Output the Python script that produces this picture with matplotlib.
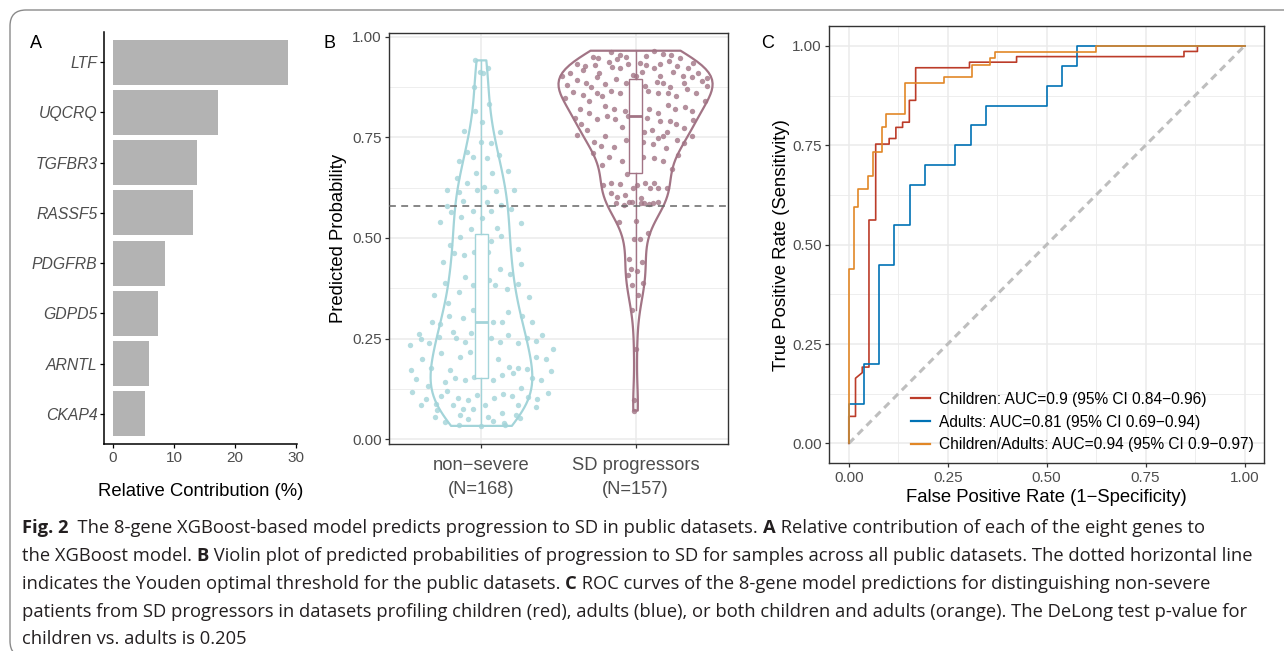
import numpy as np
import matplotlib
matplotlib.use("Agg")
import matplotlib.pyplot as plt
from matplotlib.patches import FancyBboxPatch
from matplotlib.transforms import IdentityTransform

plt.rcParams['font.family'] = ['Liberation Sans', 'DejaVu Sans']

# ---------------- data ----------------
genes = ["LTF", "UQCRQ", "TGFBR3", "RASSF5", "PDGFRB", "GDPD5", "ARNTL", "CKAP4"]
contrib = [28.7, 17.2, 13.7, 13.05, 8.5, 7.4, 5.85, 5.35]

groups = ["non\u2212severe\n(N=168)", "SD progressors\n(N=157)"]
threshold = 0.58

prob_ns = [0.941, 0.913, 0.909, 0.923, 0.876, 0.816, 0.789, 0.833, 0.766, 0.764,
           0.737, 0.735, 0.714, 0.700, 0.698, 0.706, 0.691, 0.662, 0.661, 0.667,
           0.637, 0.627, 0.648, 0.618, 0.617, 0.619, 0.615, 0.619, 0.580, 0.564,
           0.591, 0.568, 0.590, 0.581, 0.573, 0.550, 0.551, 0.567, 0.539, 0.536,
           0.522, 0.524, 0.502, 0.483, 0.493, 0.505, 0.472, 0.458, 0.464, 0.464,
           0.439, 0.462, 0.422, 0.435, 0.387, 0.404, 0.382, 0.382, 0.396, 0.382,
           0.373, 0.411, 0.385, 0.357, 0.366, 0.339, 0.353, 0.291, 0.286, 0.305,
           0.300, 0.322, 0.292, 0.290, 0.315, 0.305, 0.291, 0.262, 0.249, 0.240,
           0.254, 0.267, 0.251, 0.242, 0.263, 0.251, 0.241, 0.258, 0.239, 0.251,
           0.259, 0.245, 0.235, 0.198, 0.214, 0.173, 0.203, 0.217, 0.172, 0.198,
           0.179, 0.176, 0.175, 0.204, 0.199, 0.223, 0.171, 0.176, 0.150, 0.131,
           0.142, 0.153, 0.147, 0.154, 0.166, 0.147, 0.159, 0.165, 0.127, 0.151,
           0.148, 0.170, 0.116, 0.099, 0.088, 0.108, 0.120, 0.102, 0.098, 0.110,
           0.102, 0.113, 0.108, 0.105, 0.099, 0.115, 0.084, 0.073, 0.084, 0.075,
           0.075, 0.084, 0.064, 0.084, 0.079, 0.055, 0.043, 0.060, 0.051, 0.055,
           0.045, 0.040, 0.059, 0.052, 0.035, 0.033, 0.036,
           # samples hidden behind the box
           0.300, 0.320, 0.335, 0.350, 0.370, 0.395, 0.420, 0.445, 0.470, 0.490, 0.505]
jit_ns = [-0.039, -0.011, 0.013, 0.043, -0.050, -0.043, 0.004, 0.048, -0.115, 0.121,
          -0.006, 0.065, -0.097, -0.054, 0.035, 0.115, -0.147, -0.037, 0.067, 0.171,
          -0.097, 0.017, -0.160, -0.026, 0.093, -0.223, -0.147, 0.210, -0.221, -0.195,
          -0.121, -0.058, 0.035, 0.126, 0.193, 0.004, -0.134, 0.065, -0.266, 0.258,
          -0.067, 0.100, -0.141, -0.201, 0.065, 0.130, 0.236, -0.113, -0.050, 0.041,
          -0.249, -0.175, 0.121, 0.258, -0.234, -0.106, -0.058, -0.002, 0.050, 0.091,
          0.167, 0.186, 0.240, -0.307, -0.143, -0.216, 0.307, -0.320, -0.271, -0.208,
          -0.117, -0.052, 0.074, 0.132, 0.171, 0.266, 0.331, -0.405, -0.392, -0.340,
          -0.273, -0.182, -0.162, -0.110, -0.065, 0.065, 0.121, 0.173, 0.238, 0.297,
          0.394, 0.351, -0.461, -0.387, -0.260, -0.203, -0.141, -0.076, -0.006, 0.108,
          0.177, 0.238, 0.297, 0.357, 0.418, 0.465, -0.455, -0.329, -0.422, -0.348,
          -0.238, -0.169, -0.110, -0.048, 0.024, 0.076, 0.134, 0.203, 0.255, 0.325,
          0.387, 0.452, -0.452, -0.361, -0.294, -0.260, -0.223, -0.149, -0.089, -0.028,
          0.082, 0.139, 0.199, 0.305, 0.359, 0.435, -0.392, -0.286, -0.184, -0.117,
          -0.054, 0.024, 0.136, 0.234, 0.353, -0.301, -0.234, -0.136, -0.089, 0.041,
          0.078, 0.147, 0.223, 0.249, -0.145, 0.000, 0.152,
          0.010, -0.020, 0.025, -0.010, 0.015, -0.025, 0.005, 0.020, -0.015, 0.000, 0.012]

prob_sd = [0.961, 0.954, 0.950, 0.952, 0.965, 0.956, 0.954, 0.948, 0.949, 0.946,
           0.932, 0.927, 0.930, 0.936, 0.944, 0.932, 0.934, 0.930, 0.921, 0.931,
           0.940, 0.926, 0.921, 0.934,
           0.917, 0.902, 0.909, 0.909, 0.925, 0.921, 0.899, 0.905, 0.913, 0.901,
           0.911, 0.902, 0.909, 0.897,
           0.880, 0.892, 0.886, 0.874, 0.882, 0.894, 0.884, 0.877, 0.888, 0.886,
           0.874, 0.886, 0.899, 0.891,
           0.847, 0.862, 0.855, 0.859, 0.852, 0.866, 0.861, 0.901, 0.866, 0.859,
           0.861, 0.852, 0.869, 0.861, 0.878,
           0.820, 0.839, 0.828, 0.820, 0.814, 0.820, 0.811, 0.829, 0.820, 0.826,
           0.816, 0.840,
           0.799, 0.810, 0.795, 0.802, 0.796, 0.775, 0.803, 0.799, 0.790, 0.791,
           0.783, 0.774, 0.793, 0.783,
           0.756, 0.767, 0.738, 0.752, 0.727, 0.742, 0.762, 0.769, 0.748, 0.754,
           0.762, 0.743, 0.735, 0.752, 0.728, 0.728, 0.739, 0.733, 0.724,
           0.710, 0.700, 0.691, 0.702, 0.698, 0.692, 0.706, 0.681, 0.671,
           0.659, 0.631, 0.637, 0.633, 0.625, 0.632, 0.637, 0.636, 0.623, 0.624,
           0.623,
           0.611, 0.601, 0.606, 0.590, 0.599, 0.585, 0.589, 0.586, 0.581, 0.588,
           0.586, 0.586, 0.586,
           0.540, 0.541, 0.512, 0.498, 0.498, 0.448, 0.408, 0.422, 0.419, 0.440,
           0.382, 0.388, 0.358, 0.320, 0.224, 0.098, 0.071]
jit_sd = [-0.160, -0.104, -0.065, 0.065, 0.123, 0.177, 0.232, 0.288, -0.277, -0.245,
          -0.381, -0.327, -0.264, -0.173, -0.123, -0.052, 0.028, 0.071, 0.117, 0.158,
          0.219, 0.266, 0.338, 0.370,
          -0.342, -0.476, -0.426, -0.240, -0.154, -0.102, -0.253, -0.019, 0.039, 0.158,
          0.240, 0.305, 0.407, 0.461,
          -0.446, -0.381, -0.320, -0.286, -0.195, -0.130, -0.063, 0.063, 0.136, 0.180,
          0.221, 0.312, 0.366, 0.429,
          -0.461, -0.405, -0.340, -0.247, -0.216, -0.160, -0.100, 0.000, 0.084, 0.145,
          0.210, 0.264, 0.333, 0.390, 0.461,
          -0.361, -0.301, -0.201, -0.139, -0.067, 0.089, 0.143, 0.208, 0.258, 0.318,
          0.368, 0.450,
          -0.394, -0.301, -0.247, -0.186, -0.134, -0.091, -0.048, 0.076, 0.160, 0.223,
          0.264, 0.314, 0.374, -0.357,
          -0.377, -0.318, -0.268, -0.201, -0.141, -0.063, 0.058, 0.104, 0.145, 0.175,
          0.206, 0.266, 0.312, 0.368, -0.223, -0.011, 0.050, 0.115, 0.197,
          -0.277, -0.171, -0.091, 0.050, 0.117, 0.180, 0.273, -0.219, 0.234,
          -0.054, -0.210, -0.158, -0.104, -0.017, 0.011, 0.063, 0.119, 0.147, 0.095,
          0.201,
          -0.162, -0.121, -0.067, -0.026, 0.035, 0.089, 0.143, -0.128, -0.078, -0.041,
          0.035, 0.113, 0.054,
          -0.106, 0.002, 0.082, -0.011, 0.028, -0.043, -0.052, -0.028, 0.009, 0.043,
          -0.022, 0.048, 0.013, -0.026, 0.006, -0.009, -0.009]

roc_labels = ["Children: AUC=0.9 (95% CI 0.84\u22120.96)",
              "Adults: AUC=0.81 (95% CI 0.69\u22120.94)",
              "Children/Adults: AUC=0.94 (95% CI 0.9\u22120.97)"]
fpr_children = [0, 0, 0.017, 0.017, 0.034, 0.034, 0.051, 0.051, 0.068, 0.068, 0.102, 0.102,
                0.119, 0.119, 0.136, 0.136, 0.153, 0.153, 0.169, 0.169, 0.305, 0.305,
                0.424, 0.424, 0.847, 0.847, 0.881, 0.881, 1.0]
tpr_children = [0, 0.068, 0.068, 0.164, 0.178, 0.192, 0.192, 0.562, 0.562, 0.753, 0.753, 0.767,
                0.767, 0.795, 0.795, 0.808, 0.808, 0.863, 0.863, 0.945, 0.945, 0.959,
                0.959, 0.973, 0.973, 0.986, 0.986, 1.0, 1.0]
fpr_adults = [0, 0, 0.038, 0.038, 0.077, 0.077, 0.115, 0.115, 0.154, 0.154, 0.192, 0.192,
              0.269, 0.269, 0.308, 0.308, 0.346, 0.346, 0.5, 0.5, 0.538, 0.538, 0.577, 0.577, 1.0]
tpr_adults = [0, 0.1, 0.1, 0.2, 0.2, 0.45, 0.45, 0.55, 0.55, 0.65, 0.65, 0.70,
              0.70, 0.75, 0.75, 0.80, 0.80, 0.85, 0.85, 0.90, 0.90, 0.95, 0.95, 1.0, 1.0]
fpr_both = [0, 0, 0.012, 0.012, 0.024, 0.024, 0.048, 0.048, 0.060, 0.060, 0.083, 0.083,
            0.095, 0.095, 0.143, 0.143, 0.240, 0.240, 0.312, 0.312, 0.358, 0.358,
            0.370, 0.370, 0.625, 0.625, 1.0]
tpr_both = [0, 0.438, 0.438, 0.594, 0.594, 0.641, 0.641, 0.672, 0.672, 0.734, 0.734, 0.797,
            0.797, 0.828, 0.828, 0.906, 0.906, 0.922, 0.922, 0.953, 0.953, 0.969,
            0.969, 0.984, 0.984, 1.0, 1.0]

caption = [
    [("Fig. 2", True), ("  The 8-gene XGBoost-based model predicts progression to SD in public datasets. ", False),
     ("A", True), (" Relative contribution of each of the eight genes to", False)],
    [("the XGBoost model. ", False), ("B", True),
     (" Violin plot of predicted probabilities of progression to SD for samples across all public datasets. The dotted horizontal line", False)],
    [("indicates the Youden optimal threshold for the public datasets. ", False), ("C", True),
     (" ROC curves of the 8-gene model predictions for distinguishing non-severe", False)],
    [("patients from SD progressors in datasets profiling children (red), adults (blue), or both children and adults (orange). The DeLong test p-value for", False)],
    [("children vs. adults is 0.205", False)],
]

# ---------------- figure ----------------
W, H = 1284, 651
fig = plt.figure(figsize=(W / 100, H / 100), dpi=100)
fig.patch.set_facecolor("white")

def ax_px(x0, y0, x1, y1):
    return fig.add_axes([x0 / W, 1 - y1 / H, (x1 - x0) / W, (y1 - y0) / H])

GRAY_TXT = "#4D4D4D"
GRID = "#EBEBEB"

# outer rounded frame
frame = FancyBboxPatch((10, -6), 1300, 651 - 10 + 6, boxstyle="round,pad=0,rounding_size=16",
                       transform=IdentityTransform(), facecolor="none", edgecolor="#8A8A8A",
                       linewidth=1.0, zorder=0)
fig.patches.append(frame)

# ---------- Panel A ----------
axA = ax_px(104, 32, 297, 444)
ypos = np.arange(len(genes), 0, -1)
axA.barh(ypos, contrib, height=0.9, color="#B3B3B3")
axA.set_ylim(0.4, len(genes) + 0.6)
cmax = max(contrib)
axA.set_xlim(-0.05 * cmax, 1.05 * cmax)
axA.set_yticks(ypos)
axA.set_yticklabels(genes, fontstyle="italic", fontsize=11.3, color=GRAY_TXT)
axA.set_xticks([0, 10, 20, 30])
axA.set_xticklabels(["0", "10", "20", "30"], fontsize=11, color=GRAY_TXT)
for s in ["top", "right"]:
    axA.spines[s].set_visible(False)
for s in ["left", "bottom"]:
    axA.spines[s].set_linewidth(1.1)
    axA.spines[s].set_color("black")
axA.tick_params(length=3.2, width=0.9, color="black", pad=1.5)
axA.set_xlabel("Relative Contribution (%)", fontsize=13.3, labelpad=13)
fig.text(36 / W, 1 - 44 / H, "A", fontsize=13, ha="center", va="center")

# ---------- Panel B ----------
axB = ax_px(389, 33, 728, 444)
c_ns, c_sd = "#A3D4D9", "#A27485"

def nrd0(kde):
    d = np.asarray(kde.dataset).ravel()
    sd = d.std(ddof=1)
    q75, q25 = np.percentile(d, [75, 25])
    lo = min(sd, (q75 - q25) / 1.34)
    return 0.9 * lo * len(d) ** -0.2 / sd

vp = axB.violinplot([prob_ns, prob_sd], positions=[1, 2], widths=[0.66, 1.0],
                    showextrema=False, bw_method=nrd0)
for body, c in zip(vp["bodies"], [c_ns, c_sd]):
    body.set_facecolor("none")
    body.set_edgecolor(c)
    body.set_linewidth(1.6)
    body.set_alpha(1)
    body.set_zorder(2)

axB.scatter(1 + np.array(jit_ns), prob_ns, s=15, color=c_ns, alpha=0.8, lw=0, zorder=3)
axB.scatter(2 + np.array(jit_sd), prob_sd, s=15, color=c_sd, alpha=0.8, lw=0, zorder=3)

bp = axB.boxplot([prob_ns, prob_sd], positions=[1, 2], widths=0.08, showfliers=False,
                 showcaps=False, patch_artist=True, zorder=4)
for i, c in enumerate([c_ns, c_sd]):
    bp["boxes"][i].set(facecolor="white", edgecolor=c, linewidth=1.0)
    bp["medians"][i].set(color=c, linewidth=2.0)
    for w in bp["whiskers"][2 * i:2 * i + 2]:
        w.set(color=c, linewidth=1.0)

axB.axhline(threshold, color="#666666", lw=1.1, ls=(0, (4.5, 3.5)), zorder=5)
axB.set_xlim(0.4, 2.6)
axB.set_ylim(-0.012, 1.009)
axB.set_yticks([0, 0.25, 0.5, 0.75, 1.0])
axB.set_yticklabels(["0.00", "0.25", "0.50", "0.75", "1.00"], fontsize=11, color=GRAY_TXT)
axB.set_yticks([0.125, 0.375, 0.625, 0.875], minor=True)
axB.set_xticks([1, 2])
axB.set_xticklabels(groups, fontsize=13.2, color=GRAY_TXT, linespacing=1.5)
axB.grid(True, which="major", color=GRID, lw=1.1, zorder=0)
axB.grid(True, which="minor", axis="y", color=GRID, lw=0.6, zorder=0)
axB.set_axisbelow(True)
axB.tick_params(which="major", length=3.2, width=0.9, color="#333333", pad=2)
axB.tick_params(axis="x", which="major", pad=6.5)
axB.tick_params(which="minor", length=0)
for s in axB.spines.values():
    s.set_color("#333333")
    s.set_linewidth(1.0)
axB.set_ylabel("Predicted Probability", fontsize=13.3, labelpad=3.5)
fig.text(330 / W, 1 - 43 / H, "B", fontsize=13, ha="center", va="center")

# ---------- Panel C ----------
axC = ax_px(829, 26, 1264.3, 463.3)
axC.plot([0, 1], [0, 1], color="#BEBEBE", lw=2.2, ls=(0, (2.4, 1.7)), zorder=2)
colors = ["#BC3C29", "#0072B5", "#E18727"]
curves = [(fpr_children, tpr_children), (fpr_adults, tpr_adults), (fpr_both, tpr_both)]
for (fx, ty), c, lab in zip(curves, colors, roc_labels):
    axC.plot(fx, ty, color=c, lw=1.2, label=lab, zorder=3)
axC.set_xlim(-0.05, 1.05)
axC.set_ylim(-0.05, 1.05)
ticks = [0, 0.25, 0.5, 0.75, 1.0]
tl = ["0.00", "0.25", "0.50", "0.75", "1.00"]
axC.set_xticks(ticks)
axC.set_xticklabels(tl, fontsize=11, color=GRAY_TXT)
axC.set_yticks(ticks)
axC.set_yticklabels(tl, fontsize=11, color=GRAY_TXT)
axC.set_xticks([0.125, 0.375, 0.625, 0.875], minor=True)
axC.set_yticks([0.125, 0.375, 0.625, 0.875], minor=True)
axC.grid(True, which="major", color=GRID, lw=1.1, zorder=0)
axC.grid(True, which="minor", color=GRID, lw=0.6, zorder=0)
axC.set_axisbelow(True)
axC.tick_params(which="major", length=3.2, width=0.9, color="#333333", pad=2)
axC.tick_params(which="minor", length=0)
for s in axC.spines.values():
    s.set_color("#333333")
    s.set_linewidth(1.0)
axC.set_xlabel("False Positive Rate (1\u2212Specificity)", fontsize=13.3, labelpad=3.5)
axC.set_ylabel("True Positive Rate (Sensitivity)", fontsize=13.3, labelpad=1.5)
leg = axC.legend(loc="lower left", bbox_to_anchor=((911 - 829) / 435.3, 0.025),
                 frameon=False, fontsize=11.2, handlelength=1.2, handletextpad=0.6,
                 labelspacing=0.5, borderpad=0, borderaxespad=0)
for h in leg.get_lines():
    h.set_linewidth(1.6)
fig.text(768 / W, 1 - 43 / H, "C", fontsize=13, ha="center", va="center")

# ---------- Caption ----------
renderer = fig.canvas.get_renderer()
CAP_FONT = ["Open Sans", "DejaVu Sans"]

def text_width(s, size, bold):
    t = fig.text(0, 0, "|" + s + "|", fontsize=size, family=CAP_FONT,
                 fontweight="bold" if bold else "normal")
    t2 = fig.text(0, 0, "||", fontsize=size, family=CAP_FONT,
                  fontweight="bold" if bold else "normal")
    w = t.get_window_extent(renderer).width - t2.get_window_extent(renderer).width
    t.remove(); t2.remove()
    return w

base = 10.0
w1 = sum(text_width(s, base, b) for s, b in caption[0])
cap_size = base * (1205 - 22) / w1

line_y = [528, 556, 584, 612, 639]
for parts, yy in zip(caption, line_y):
    x = 22.0
    for s, b in parts:
        fig.text(x / W, 1 - yy / H, s, fontsize=cap_size, family=CAP_FONT,
                 fontweight="bold" if b else "normal", ha="left", va="center",
                 color="#231F20")
        x += text_width(s, cap_size, b)

fig.savefig("out.png", dpi=100)
